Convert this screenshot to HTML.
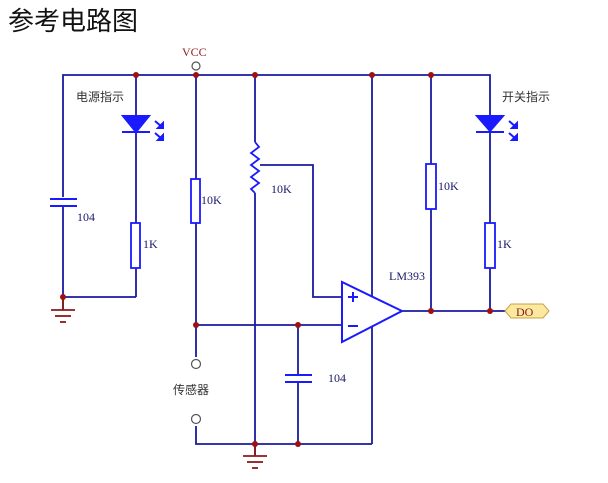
<!DOCTYPE html>
<html><head><style>
html,body{margin:0;padding:0;background:#fff;width:608px;height:483px;overflow:hidden}
svg{display:block}
text{font-family:"Liberation Serif",serif;font-size:12px;fill:#1a1a6a}
.cn{font-family:"Liberation Sans","Noto Sans CJK SC",sans-serif;font-size:12px;fill:#333}
</style></head><body>
<svg width="608" height="483" viewBox="0 0 608 483">
<text x="8" y="30" style="font-family:'Liberation Sans','Noto Sans CJK SC',sans-serif;font-size:26px;fill:#111">参考电路图</text>
<g stroke="#1a1aa0" stroke-width="1.8" fill="none">
<!-- top rail -->
<polyline points="63,297 63,75 490,75 490,311"/>
<line x1="63" y1="297" x2="136" y2="297"/>
<line x1="136" y1="75" x2="136" y2="297"/>
<line x1="196" y1="75" x2="196" y2="357"/>
<line x1="196" y1="325" x2="342" y2="325"/>
<line x1="255" y1="75" x2="255" y2="444"/>
<polyline points="259,165 313,165 313,297 342,297"/>
<line x1="372" y1="75" x2="372" y2="444"/>
<line x1="431" y1="75" x2="431" y2="311"/>
<line x1="402" y1="311" x2="505" y2="311"/>
<polyline points="196,426 196,444 372,444"/>
<line x1="298" y1="325" x2="298" y2="444"/>
<line x1="63" y1="297" x2="63" y2="310"/>
<line x1="255" y1="444" x2="255" y2="456"/>
</g>
<g fill="#fff" stroke="#1a1aff" stroke-width="1.8">
<rect x="191" y="179" width="9" height="44"/>
<rect x="131" y="183" width="9" height="44" style="display:none"/>
<rect x="131" y="223" width="9" height="45"/>
<rect x="426" y="164" width="10" height="45"/>
<rect x="485" y="223" width="10" height="45"/>
</g>
<!-- caps -->
<g stroke="#1a1aff" stroke-width="2">
<rect x="52" y="197" width="24" height="10" fill="#fff" stroke="none"/>
<line x1="50" y1="199" x2="77" y2="199"/><line x1="50" y1="206" x2="77" y2="206"/>
<rect x="284" y="374" width="28" height="8" fill="#fff" stroke="none"/>
<line x1="285" y1="375" x2="312" y2="375"/><line x1="285" y1="382" x2="312" y2="382"/>
</g>
<!-- pot -->
<rect x="250" y="142" width="10" height="51" fill="#fff"/>
<polyline points="255,142 259,147 251,153 259,159 251,165 259,171 251,177 259,183 251,189 255,193" stroke="#1a1aff" stroke-width="1.8" fill="none"/>
<!-- LEDs -->
<g fill="#1a1aff" stroke="#1a1aff" stroke-width="2">
<polygon points="123,116 149,116 136,132"/><line x1="122" y1="132" x2="150" y2="132"/>
<polygon points="477,116 503,116 490,131"/><line x1="476" y1="132" x2="504" y2="132"/>
<path d="M155,121 l7,6 M155,133 l7,6" fill="none"/>
<path d="M509,121 l7,6 M509,133 l7,6" fill="none"/>
<polygon points="163,123 163,128 158,128" /><polygon points="163,135 163,140 158,140"/>
<polygon points="517,123 517,128 512,128" /><polygon points="517,135 517,140 512,140"/>
</g>
<!-- opamp -->
<polygon points="342,282 342,342 402,311" fill="#fff" stroke="#1a1aff" stroke-width="2"/>
<g stroke="#1a1aff" stroke-width="2"><line x1="348" y1="297" x2="358" y2="297"/><line x1="353" y1="292" x2="353" y2="302"/><line x1="348" y1="326" x2="358" y2="326"/></g>
<!-- grounds -->
<g stroke="#8b1a1a" stroke-width="1.8">
<line x1="51" y1="310" x2="75" y2="310"/><line x1="55" y1="316" x2="71" y2="316"/><line x1="60" y1="322" x2="66" y2="322"/>
<line x1="243" y1="456" x2="267" y2="456"/><line x1="247" y1="462" x2="263" y2="462"/><line x1="252" y1="468" x2="258" y2="468"/>
<line x1="63" y1="297" x2="63" y2="310"/><line x1="255" y1="444" x2="255" y2="456"/>
</g>
<!-- dots -->
<g fill="#a01010">
<circle cx="136" cy="75" r="3"/><circle cx="196" cy="75" r="3"/><circle cx="255" cy="75" r="3"/><circle cx="372" cy="75" r="3"/><circle cx="431" cy="75" r="3"/>
<circle cx="63" cy="297" r="3"/><circle cx="196" cy="325" r="3"/><circle cx="298" cy="325" r="3"/>
<circle cx="255" cy="444" r="3"/><circle cx="298" cy="444" r="3"/><circle cx="431" cy="311" r="3"/><circle cx="490" cy="311" r="3"/>
</g>
<g fill="#fff" stroke="#555" stroke-width="1.2">
<circle cx="196" cy="66" r="4"/><circle cx="196" cy="364" r="4.5"/><circle cx="196" cy="419" r="4.5"/>
</g>
<polygon points="505,311 511,304 543,304 549,311 543,318 511,318" fill="#fbe9a0" stroke="#c8a040" stroke-width="1"/>
<text x="516" y="316" style="fill:#8b1a1a;font-size:12px">DO</text>
<text x="182" y="56" style="fill:#8b1a1a">VCC</text>
<text x="77" y="221">104</text>
<text x="143" y="248">1K</text>
<text x="201" y="204">10K</text>
<text x="271" y="193">10K</text>
<text x="328" y="382">104</text>
<text x="389" y="280">LM393</text>
<text x="438" y="190">10K</text>
<text x="497" y="248">1K</text>
<text class="cn" x="76" y="101">电源指示</text>
<text class="cn" x="502" y="101">开关指示</text>
<text class="cn" x="173" y="394">传感器</text>
</svg>
</body></html>
